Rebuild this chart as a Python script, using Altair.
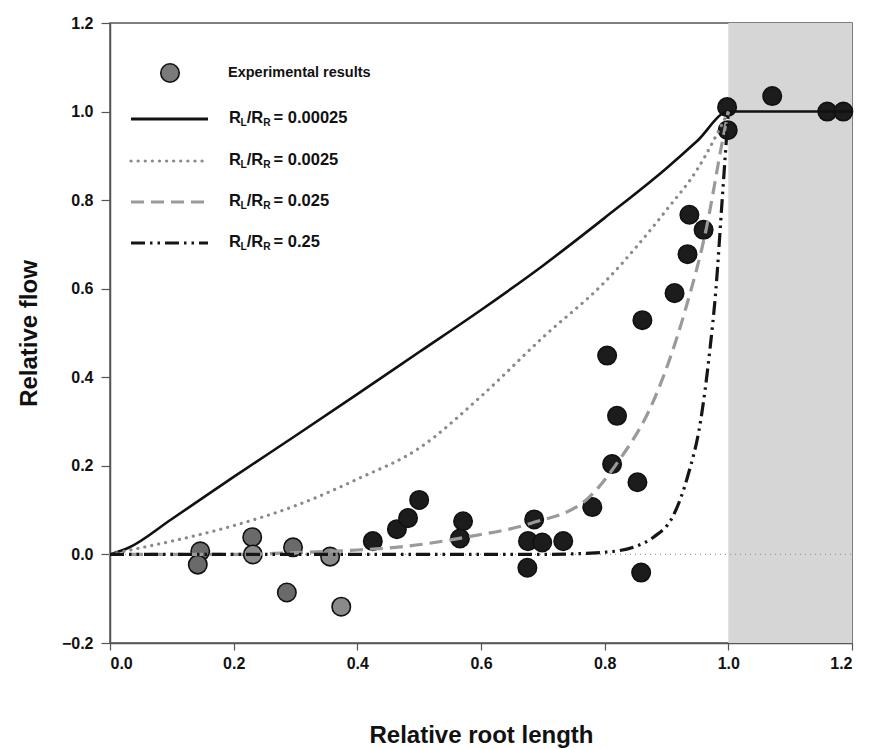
import altair as alt
import pandas as pd

# ---------------- data ----------------
exp_x = [0.146, 0.142, 0.230, 0.231, 0.296, 0.356, 0.286, 0.374, 0.425, 0.464,
         0.482, 0.500, 0.571, 0.566, 0.686, 0.676, 0.699, 0.675, 0.733, 0.780,
         0.812, 0.853, 0.859, 0.937, 0.960, 0.934, 0.913, 0.861, 0.804, 0.820,
         0.998, 0.999, 1.071, 1.160, 1.186]
exp_y = [0.007, -0.023, 0.039, 0.000, 0.016, -0.005, -0.086, -0.118, 0.030, 0.057,
         0.082, 0.123, 0.075, 0.036, 0.079, 0.030, 0.027, -0.030, 0.030, 0.107,
         0.204, 0.163, -0.041, 0.767, 0.733, 0.678, 0.590, 0.529, 0.449, 0.313,
         1.010, 0.958, 1.035, 1.000, 1.000]
exp_group = ["grey", "grey", "grey", "light", "grey", "light", "grey", "light"] + ["dark"] * 27

solid_x = [0, 0.03, 0.1, 0.2, 0.3, 0.4, 0.5, 0.6, 0.7, 0.8, 0.9, 0.95, 1.0, 1.2]
solid_y = [0, 0.015, 0.08, 0.175, 0.268, 0.362, 0.457, 0.552, 0.652, 0.76, 0.872, 0.934, 1.0, 1.0]

dotted_x = [0, 0.05, 0.1, 0.2, 0.3, 0.4, 0.5, 0.6, 0.7, 0.8, 0.9, 0.95, 1.0]
dotted_y = [0, 0.015, 0.03, 0.065, 0.11, 0.17, 0.24, 0.357, 0.49, 0.615, 0.778, 0.87, 1.0]

dashed_x = [0, 0.2, 0.3, 0.4, 0.47, 0.58, 0.68, 0.77, 0.82, 0.88, 0.93, 0.965, 0.99, 1.0]
dashed_y = [0, 0.0, 0.004, 0.01, 0.017, 0.04, 0.07, 0.123, 0.206, 0.35, 0.55, 0.74, 0.93, 1.0]

dashdot_x = [0, 0.7, 0.8, 0.85, 0.88, 0.91, 0.935, 0.955, 0.97, 0.98, 0.99, 1.0]
dashdot_y = [0, 0.0, 0.005, 0.018, 0.04, 0.085, 0.18, 0.3, 0.46, 0.6, 0.8, 1.0]

ratio_labels = ["0.00025", "0.0025", "0.025", "0.25"]

x_ticks = [0.0, 0.2, 0.4, 0.6, 0.8, 1.0, 1.2]
y_ticks = [-0.2, 0.0, 0.2, 0.4, 0.6, 0.8, 1.0, 1.2]
shade_x = [1.0, 1.2]
y_range = [-0.2, 1.2]

# ---------------- layout ----------------
W, H = 742, 620
FONT = "Liberation Sans"

xs = alt.Scale(domain=[0, 1.2], nice=False, zero=False)
ys = alt.Scale(domain=y_range, nice=False, zero=False)

xenc = alt.X("x:Q", scale=xs,
             axis=alt.Axis(values=x_ticks, format=".1f", title="Relative root length",
                           grid=False, tickSize=7, labelPadding=5, titlePadding=52,
                           labelFont=FONT, labelFontSize=16, labelFontWeight="bold",
                           titleFont=FONT, titleFontSize=24, titleFontWeight="bold",
                           domainColor="#555", tickColor="#555", domainWidth=1.5,
                           tickWidth=1.2, labelColor="#111", titleColor="#111"))
yenc = alt.Y("y:Q", scale=ys,
             axis=alt.Axis(values=y_ticks, format=".1f", title="Relative  flow",
                           grid=False, tickSize=9, labelPadding=8, titlePadding=20,
                           labelFont=FONT, labelFontSize=16, labelFontWeight="bold",
                           titleFont=FONT, titleFontSize=24, titleFontWeight="bold",
                           domainColor="#555", tickColor="#555", domainWidth=1.5,
                           tickWidth=1.2, labelColor="#111", titleColor="#111"))

shade_df = pd.DataFrame({"x": [shade_x[0]], "x2": [shade_x[1]],
                         "y": [y_range[0]], "y2": [y_range[1]]})
shade = alt.Chart(shade_df).mark_rect(color="#d6d6d6").encode(
    x=xenc, x2="x2:Q", y=yenc, y2="y2:Q")

zero_df = pd.DataFrame({"x": [0.0], "x2": [1.2], "y": [0.0]})
zero_line = alt.Chart(zero_df).mark_rule(color="#9a9a9a", strokeDash=[1, 4], strokeWidth=1.2).encode(
    x=xenc, x2="x2:Q", y=yenc)

exp_df = pd.DataFrame({"x": exp_x, "y": exp_y, "g": exp_group})
points = alt.Chart(exp_df).mark_point(filled=True, shape="circle", size=340,
                                       stroke="#111", strokeWidth=1.6, opacity=1).encode(
    x=xenc, y=yenc,
    fill=alt.Fill("g:N", scale=alt.Scale(domain=["grey", "light", "dark"],
                                         range=["#6a6a6a", "#8a8a8a", "#1c1c1c"]), legend=None))


def curve(xv, yv, **kw):
    df = pd.DataFrame({"x": xv, "y": yv, "i": list(range(len(xv)))})
    return alt.Chart(df).mark_line(interpolate="monotone", **kw).encode(
        x=xenc, y=yenc, order="i:Q")


c_solid = curve(solid_x, solid_y, color="#111", strokeWidth=2.6)
c_dot = curve(dotted_x, dotted_y, color="#8a8a8a", strokeWidth=3.2, strokeDash=[0.1, 7], strokeCap="round")
c_dash = curve(dashed_x, dashed_y, color="#9a9a9a", strokeWidth=3.2, strokeDash=[13, 7])
c_dashdot = curve(dashdot_x, dashdot_y, color="#151515", strokeWidth=3.2, strokeDash=[14, 5, 2.5, 5, 2.5, 5])

# ---------------- custom legend (pixel positions inside plot area) ----------------
one = pd.DataFrame({"a": [0]})
leg = []
leg.append(alt.Chart(one).mark_point(filled=True, shape="circle", size=340, fill="#7a7a7a",
                                     stroke="#111", strokeWidth=1.6, opacity=1).encode(
    x=alt.value(60), y=alt.value(50)))
leg.append(alt.Chart(one).mark_text(text="Experimental results", align="left", baseline="middle",
                                    font=FONT, fontSize=14.5, fontWeight="bold", color="#111").encode(
    x=alt.value(118), y=alt.value(50)))

row_y = [96, 138, 179, 220]
styles = [dict(color="#111", strokeWidth=2.8),
          dict(color="#8a8a8a", strokeWidth=3.2, strokeDash=[0.1, 7], strokeCap="round"),
          dict(color="#9a9a9a", strokeWidth=3.2, strokeDash=[13, 7]),
          dict(color="#151515", strokeWidth=3.2, strokeDash=[14, 5, 2.5, 5, 2.5, 5])]
FS = 16.5
for ry, st, lab in zip(row_y, styles, ratio_labels):
    leg.append(alt.Chart(one).mark_rule(**st).encode(
        x=alt.value(21), x2=alt.value(98), y=alt.value(ry)))
    tx = 119
    pieces = [("R", 0, FS, 0), ("L", FS * 0.70, FS * 0.62, 5),
              ("/R", FS * 0.70 + FS * 0.62 * 0.6, FS, 0)]
    x_sub2 = pieces[2][1] + FS * (0.278 + 0.722)
    pieces.append(("R", x_sub2, FS * 0.62, 5))
    pieces.append(("= " + lab, x_sub2 + FS * 0.62 * 0.72 + 3, FS, 0))
    for txt, dx, fs, dy in pieces:
        leg.append(alt.Chart(one).mark_text(text=txt, align="left", baseline="middle",
                                            font=FONT, fontSize=fs, fontWeight="bold",
                                            color="#111").encode(
            x=alt.value(tx + dx), y=alt.value(ry - 1 + dy)))

chart = alt.layer(shade, zero_line, points, c_solid, c_dot, c_dash, c_dashdot, *leg).properties(
    width=W, height=H,
    autosize=alt.AutoSizeParams(type="none"),
    padding={"left": 110, "top": 23, "right": 18, "bottom": 106},
    background="white",
).configure_view(stroke="#555", strokeWidth=1.5)

chart.save("out.html", embed_options={"renderer": "svg", "actions": False})
